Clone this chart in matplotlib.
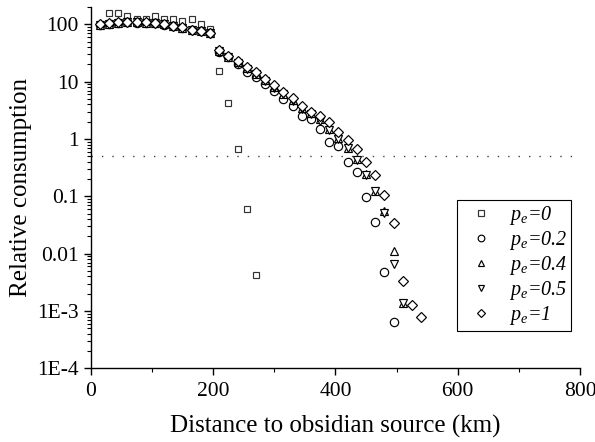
import numpy as np
import matplotlib.pyplot as plt
from matplotlib.ticker import FixedLocator, LogLocator, NullFormatter

plt.rcParams['font.family'] = ['Liberation Serif', 'DejaVu Serif']
plt.rcParams['mathtext.fontset'] = 'custom'
plt.rcParams['mathtext.it'] = 'Liberation Serif:italic'
plt.rcParams['mathtext.rm'] = 'Liberation Serif'

# distances (km)
x_early = [15, 30, 45, 60, 75, 90, 105, 120, 135, 150, 165, 180, 195]
x_late = [210, 225, 240, 255, 270, 285, 300, 315, 330, 345, 360, 375, 390,
          405, 420, 435, 450, 465, 480, 495, 510, 525, 540]

# pe = 0
x_p0 = [30, 45, 60, 75, 90, 105, 120, 135, 150, 165, 180, 195,
        210, 225, 240, 255, 270]
y_p0 = [160, 155, 140, 126, 124, 138, 124, 124, 115, 126, 101, 82,
        15.6, 4.2, 0.68, 0.061, 0.0043]

# pe = 0.2
x_p02 = x_early + x_late[:20]
y_p02 = [98, 101, 105, 109, 107, 105, 104, 99, 92, 86, 79, 75, 70,
         33, 26.5, 20.5, 14.5, 12, 9.1, 6.8, 5.0, 3.8, 2.5, 2.2, 1.49,
         0.87, 0.74, 0.40, 0.271, 0.097, 0.036, 0.0047, 0.00065]

# pe = 0.4
x_p04 = x_early + x_late[:21]
y_p04 = [99, 103, 107, 111, 109, 107, 106, 101, 94, 88, 80, 76, 71,
         34, 27, 22, 17, 13.8, 10.5, 8.0, 6.1, 4.7, 3.5, 2.8, 2.2, 1.5,
         1.05, 0.71, 0.45, 0.25, 0.125, 0.055, 0.011, 0.0014]

# pe = 0.5
x_p05 = x_early + x_late[:21]
y_p05 = [99, 103, 107, 111, 109, 107, 106, 101, 94, 88, 80, 76, 71,
         34, 27, 21.5, 16.8, 13.5, 10.3, 7.9, 6.0, 4.6, 3.4, 2.7, 2.1, 1.45,
         1.0, 0.70, 0.43, 0.24, 0.122, 0.052, 0.0066, 0.0014]

# pe = 1
x_p1 = x_early + x_late
y_p1 = [100, 104, 108, 112, 110, 108, 107, 102, 95, 89, 81, 77, 72,
        35, 28, 23, 18, 14.7, 11.2, 8.6, 6.5, 5.1, 3.8, 3.0, 2.5, 1.95,
        1.34, 0.96, 0.67, 0.40, 0.233, 0.105, 0.034, 0.0033, 0.00129, 0.00078]

labels = [r'$p_e$=0', r'$p_e$=0.2', r'$p_e$=0.4', r'$p_e$=0.5', r'$p_e$=1']

fig = plt.figure(figsize=(5.95, 4.42), dpi=100)
ax = fig.add_axes([0.1524, 0.1667, 0.8226, 0.8173])

ax.axhline(0.5, color='#444444', lw=1, linestyle=(0, (1, 6.5)))

kw = dict(linestyle='none', markerfacecolor='white', markeredgewidth=0.85)
ax.plot(x_p0, y_p0, marker='s', ms=5, color='#333333', label=labels[0], **kw)
ax.plot(x_p02, y_p02, marker='o', ms=6, color='black', label=labels[1], **kw)
ax.plot(x_p04, y_p04, marker='^', ms=6, color='black', label=labels[2], **kw)
ax.plot(x_p05, y_p05, marker='v', ms=6, color='black', label=labels[3], **kw)
ax.plot(x_p1, y_p1, marker='D', ms=5, color='black', label=labels[4], **kw)

ax.set_yscale('log')
ax.set_xlim(0, 800)
ax.set_ylim(1e-4, 200)

ax.set_xticks([0, 200, 400, 600, 800])
ax.xaxis.set_minor_locator(FixedLocator([100, 300, 500, 700]))
ax.set_yticks([1e-4, 1e-3, 1e-2, 1e-1, 1, 10, 100])
ax.set_yticklabels(['1E-4', '1E-3', '0.01', '0.1', '1', '10', '100'])
ax.yaxis.set_minor_locator(LogLocator(base=10, subs=np.arange(2, 10)))
ax.yaxis.set_minor_formatter(NullFormatter())
ax.tick_params(which='major', direction='out', length=5, width=1, labelsize=15.5)
ax.tick_params(axis='x', which='major', pad=5)
ax.tick_params(which='minor', direction='out', length=3, width=0.8)

for s in ['top', 'right']:
    ax.spines[s].set_visible(False)
for s in ['left', 'bottom']:
    ax.spines[s].set_linewidth(1)

ax.set_xlabel('Distance to obsidian source (km)', fontsize=18, labelpad=10)
ax.set_ylabel('Relative consumption', fontsize=18, labelpad=4)

leg = ax.legend(loc='upper left', bbox_to_anchor=(0.749, 0.466),
                prop={'family': 'Liberation Serif', 'style': 'italic', 'size': 14.5},
                fancybox=False, edgecolor='black', framealpha=1, markerscale=0.8,
                handletextpad=0.35, borderpad=0.2, labelspacing=0.1,
                handlelength=2.0, borderaxespad=0)
leg.get_frame().set_linewidth(0.8)

plt.savefig('out.png', dpi=100)
